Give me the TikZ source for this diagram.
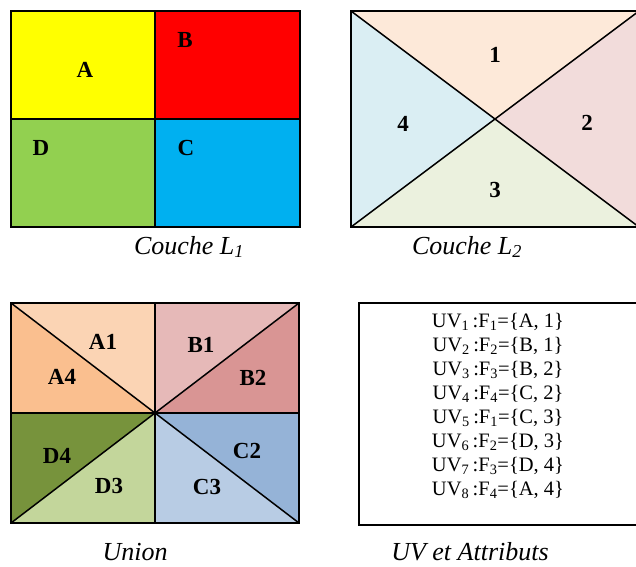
\documentclass[tikz,border=0pt]{standalone}
\usepackage{fontspec}
\setmainfont{Liberation Serif}
\usepackage{tikz}
\usetikzlibrary{positioning,calc}
\usepackage{xcolor}
\definecolor{zoneA}{HTML}{FFFF00}
\definecolor{zoneB}{HTML}{FF0000}
\definecolor{zoneC}{HTML}{00B0F0}
\definecolor{zoneD}{HTML}{92D050}
\definecolor{part1}{HTML}{FDE9D9}
\definecolor{part2}{HTML}{F2DCDB}
\definecolor{part3}{HTML}{EBF1DE}
\definecolor{part4}{HTML}{DAEEF3}
\definecolor{uA1}{HTML}{FBD4B4}
\definecolor{uA4}{HTML}{FABF8F}
\definecolor{uB1}{HTML}{E6B9B8}
\definecolor{uB2}{HTML}{D99594}
\definecolor{uC2}{HTML}{95B3D7}
\definecolor{uC3}{HTML}{B8CCE4}
\definecolor{uD3}{HTML}{C3D69B}
\definecolor{uD4}{HTML}{77933C}

\tikzset{
  edge/.style={line width=1.5pt, black},
  zlabel/.style={font=\fontsize{23}{23}\selectfont\bfseries, inner sep=0pt},
  caption/.style={font=\fontsize{26}{26}\selectfont\itshape, inner sep=0pt, anchor=base},
  uvline/.style={font=\fontsize{20.5}{20.5}\selectfont, inner sep=0pt}
}

\begin{document}
\begin{tikzpicture}[x=1pt, y=-1pt]
  \useasboundingbox (0,0) rectangle (636,566);
  % couche L1
  \fill[zoneA] (11,11) rectangle (155,119);
  \fill[zoneB] (155,11) rectangle (300,119);
  \fill[zoneD] (11,119) rectangle (155,227);
  \fill[zoneC] (155,119) rectangle (300,227);
  \draw[edge] (11,11) rectangle (300,227);
  \draw[edge] (155,11) -- (155,227) (11,119) -- (300,119);
  \node[zlabel] (lA) at (85,70) {A};
  \node[zlabel] (lB) at (185,40) {B};
  \node[zlabel] (lD) at (41,148) {D};
  \node[zlabel] (lC) at (186,148) {C};
  \node[caption] (capL1) at (189,254) {Couche L\textsubscript{1}};
  % couche L2
  \coordinate (m2) at (495,119);
  \fill[part1] (351,11) -- (639,11) -- (m2) -- cycle;
  \fill[part2] (639,11) -- (639,227) -- (m2) -- cycle;
  \fill[part3] (351,227) -- (639,227) -- (m2) -- cycle;
  \fill[part4] (351,11) -- (351,227) -- (m2) -- cycle;
  \draw[edge] (351,11) rectangle (639,227);
  \draw[edge] (351,11) -- (639,227) (351,227) -- (639,11);
  \node[zlabel] (l1) at (495,55) {1};
  \node[zlabel] (l2) at (587,123) {2};
  \node[zlabel] (l3) at (495,190) {3};
  \node[zlabel] (l4) at (403,124) {4};
  \node[caption] (capL2) at (467,254) {Couche L\textsubscript{2}};
  % union
  \coordinate (m3) at (155,413);
  \fill[uA1] (11,303) -- (155,303) -- (m3) -- cycle;
  \fill[uA4] (11,303) -- (11,413) -- (m3) -- cycle;
  \fill[uB1] (155,303) -- (299,303) -- (m3) -- cycle;
  \fill[uB2] (299,303) -- (299,413) -- (m3) -- cycle;
  \fill[uD4] (11,413) -- (m3) -- (11,523) -- cycle;
  \fill[uD3] (m3) -- (155,523) -- (11,523) -- cycle;
  \fill[uC2] (m3) -- (299,413) -- (299,523) -- cycle;
  \fill[uC3] (m3) -- (299,523) -- (155,523) -- cycle;
  \draw[edge] (11,303) rectangle (299,523);
  \draw[edge] (155,303) -- (155,523) (11,413) -- (299,413);
  \draw[edge] (11,303) -- (299,523) (11,523) -- (299,303);
  \node[zlabel] (lA1) at (103,342) {A1};
  \node[zlabel] (lA4) at (62,377) {A4};
  \node[zlabel] (lB1) at (201,345) {B1};
  \node[zlabel] (lB2) at (253,378) {B2};
  \node[zlabel] (lD4) at (57,456) {D4};
  \node[zlabel] (lD3) at (109,486) {D3};
  \node[zlabel] (lC2) at (247,451) {C2};
  \node[zlabel] (lC3) at (207,487) {C3};
  \node[caption] (capU) at (135,560) {Union};
  % UV et attributs
  \draw[edge] (359,303) rectangle (639,525);
  \foreach \i/\f/\z/\k in {1/1/A/1, 2/2/B/1, 3/3/B/2, 4/4/C/2, 5/1/C/3, 6/2/D/3, 7/3/D/4, 8/4/A/4}
    \node[uvline] (uv\i) at (498,{322+24*(\i-1)}) {UV\textsubscript{\i}\,:F\textsubscript{\f}=\{\z, \k\}};
  \node[caption] (capUV) at (470,560) {UV et Attributs};
\end{tikzpicture}
\end{document}
